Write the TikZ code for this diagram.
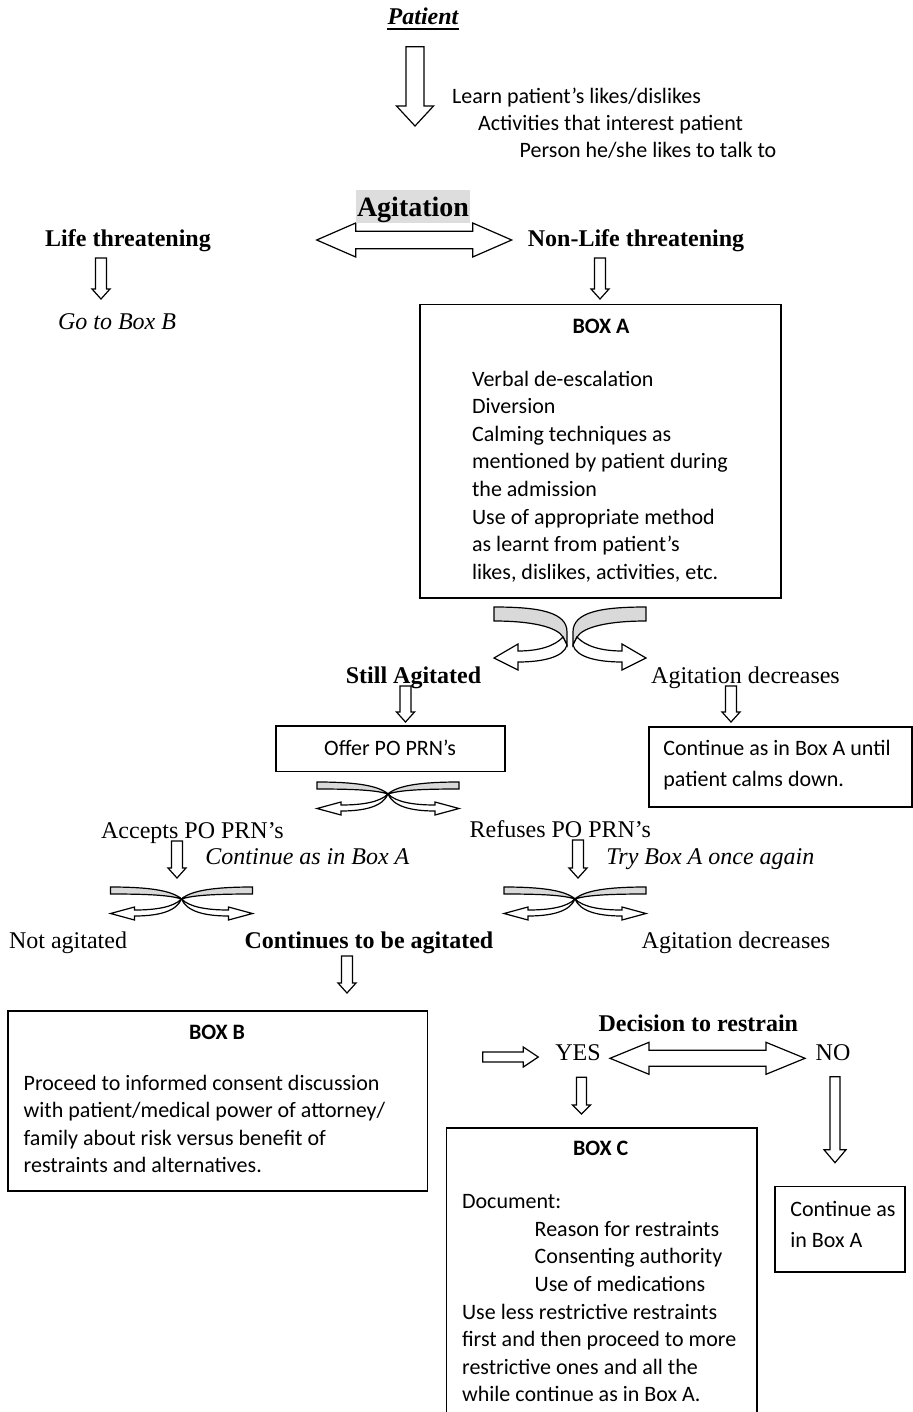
\documentclass[tikz,border=0pt]{standalone}
\usepackage{fontspec}
\setmainfont{Liberation Serif}
\newfontfamily\calib{Carlito}
\definecolor{ribbon}{HTML}{D9D9D9}
\definecolor{hilite}{HTML}{DDDDDD}
% block arrows
\newcommand\bdown[6]{% x ytop ytip shaftw headw headlen
  \draw[barrow] ({#1-#4/2},#2) -- ({#1+#4/2},#2) -- ({#1+#4/2},{#3-#6}) -- ({#1+#5/2},{#3-#6}) -- (#1,#3) -- ({#1-#5/2},{#3-#6}) -- ({#1-#4/2},{#3-#6}) -- cycle;}
\newcommand\bdouble[6]{% xl xr yc shaft-half head-half headlen
  \draw[barrow] (#1,#3) -- ({#1+#6},{#3-#5}) -- ({#1+#6},{#3-#4}) -- ({#2-#6},{#3-#4}) -- ({#2-#6},{#3-#5}) -- (#2,#3) -- ({#2-#6},{#3+#5}) -- ({#2-#6},{#3+#4}) -- ({#1+#6},{#3+#4}) -- ({#1+#6},{#3+#5}) -- cycle;}
\newcommand\bright[6]{% xl xtip yc shaft-half head-half headlen
  \draw[barrow] (#1,{#3-#4}) -- ({#2-#6},{#3-#4}) -- ({#2-#6},{#3-#5}) -- (#2,#3) -- ({#2-#6},{#3+#5}) -- ({#2-#6},{#3+#4}) -- (#1,{#3+#4}) -- cycle;}
\newcommand\bigribbon{%
  \draw[grib] (-73,-33) .. controls (-28,-33) and (0,-28) .. (0,-8) -- (0,5) -- (-4,-3) .. controls (-10,-13) and (-35,-19) .. (-73,-19) -- cycle;
  \draw[barrow] (-4,-3) .. controls (-12,6) and (-28,11) .. (-49,11) -- (-49,4) -- (-73,18) -- (-49,30) -- (-49,22) .. controls (-24,22) and (-3,17) .. (0,5) -- cycle;}
\newcommand\smallribbon{%
  \draw[grib] (-71,-12) .. controls (-35,-12) and (-10,-9) .. (0,0) .. controls (-12,-4) and (-35,-5) .. (-71,-5) -- cycle;
  \draw[barrow] (0,0) .. controls (-8,8) and (-25,11) .. (-47,11) -- (-47,8) -- (-71,14.5) -- (-47,21) -- (-47,17) .. controls (-22,17) and (-5,12) .. (0,0) -- cycle;}
\newcommand\splitsmall[2]{%
  \begin{scope}[shift={(#1,#2)}]\smallribbon\end{scope}
  \begin{scope}[shift={(#1,#2)},xscale=-1]\smallribbon\end{scope}}
\tikzset{
  barrow/.style={draw=black, fill=white, line width=0.6pt},
  grib/.style={draw=black, fill=ribbon, line width=0.6pt},
  boxline/.style={draw=black, line width=0.75pt, inner sep=0pt},
  tm/.style={font=\fontsize{12}{14}\selectfont, inner sep=0pt, anchor=base},
  tmb/.style={font=\fontsize{12}{14}\selectfont\bfseries, inner sep=0pt, anchor=base},
  tmi/.style={font=\fontsize{12}{14}\selectfont\itshape, inner sep=0pt, anchor=base west},
  cl/.style={font=\calib\fontsize{11}{13.8}\selectfont, inner sep=0pt, anchor=base west},
  clw/.style={font=\calib\fontsize{11}{15.5}\selectfont, inner sep=0pt, anchor=base west},
  ct/.style={font=\calib\bfseries\fontsize{11}{13.8}\selectfont, inner sep=0pt, anchor=base},
}
\begin{document}
\begin{tikzpicture}[x=0.5pt,y=-0.5pt]
\useasboundingbox[fill=white] (0,0) rectangle (912,1412);

% Patient
\node[tm, font=\fontsize{12}{14}\selectfont\bfseries\itshape] (patient) at (423,25) {Patient};
\draw[line width=0.9pt] ([yshift=-2.2pt]patient.base west) -- ([yshift=-2.2pt]patient.base east);
\bdown{415}{46.7}{126}{18}{37}{20}
\node[cl] (learn1) at (451.7,103.7) {Learn patient’s likes/dislikes};
\node[cl] (learn2) at (477.7,130.3) {Activities that interest patient};
\node[cl] (learn3) at (519.3,157.7) {Person he/she likes to talk to};

% Agitation
\bdouble{316.7}{511.7}{240}{8.7}{17}{39}
\node[fill=hilite, inner sep=0pt, text height=13.35pt, text depth=3pt, minimum width=57pt,
      font=\fontsize{14}{16}\selectfont\bfseries, anchor=base] (agit) at (413,216.7) {Agitation};
\node[tmb] (life) at (128,247) {Life threatening};
\node[tmb] (nonlife) at (636,247) {Non-Life threatening};
\bdown{101}{258}{299}{11}{18}{10}
\bdown{600}{258}{299}{11}{18}{10}
\node[tmi, anchor=base] (gotob) at (117,329) {Go to Box B};

% Box A
\node[boxline, anchor=north west, minimum width=180.35pt, minimum height=146.65pt] (boxA) at (419.3,303.7) {};
\node[ct] (boxAt) at (601,333.5) {BOX A};
\node[cl] (boxAbody) at (471.7,386) {\begin{tabular}[t]{@{}l@{}}Verbal de-escalation\\ Diversion\\ Calming techniques as\\ mentioned by patient during\\ the admission\\ Use of appropriate method\\ as learnt from patient’s\\ likes, dislikes, activities, etc.\end{tabular}};

% big split
\begin{scope}[shift={(567,640)}]\bigribbon\end{scope}
\begin{scope}[shift={(573,640)},xscale=-1]\bigribbon\end{scope}

\node[tmb] (still) at (413.5,683) {Still Agitated};
\node[tm] (dec1) at (745.5,683) {Agitation decreases};
\bdown{405.5}{686}{722}{11}{18}{10}
\bdown{731}{686}{722}{11}{18}{10}

% Offer PO PRN's
\node[boxline, anchor=north west, minimum width=114.65pt, minimum height=22.85pt] (offer) at (275,725) {};
\node[cl, anchor=base] (offert) at (390,755) {Offer PO PRN’s};
\node[boxline, anchor=north west, minimum width=131.5pt, minimum height=40pt] (cont1) at (648,726) {};
\node[clw] (cont1t) at (663,755) {\begin{tabular}[t]{@{}l@{}}Continue as in Box A until\\ patient calms down.\end{tabular}};

\splitsmall{388}{794}

\node[tm] (accepts) at (192.5,838) {Accepts PO PRN’s};
\node[tm] (refuses) at (560.3,837) {Refuses PO PRN’s};
\bdown{177}{841}{878}{11}{18}{10}
\bdown{578}{840}{878}{11}{18}{10}
\node[tmi] (contA) at (205,864) {Continue as in Box A};
\node[tmi] (tryA) at (606,864) {Try Box A once again};

\splitsmall{181.5}{899}
\splitsmall{575}{899}

\node[tm] (notag) at (68,948) {Not agitated};
\node[tmb] (contag) at (369,948) {Continues to be agitated};
\node[tm] (dec2) at (736,948) {Agitation decreases};
\bdown{347}{956}{993}{11}{18}{10}

% Box B
\node[boxline, anchor=north west, minimum width=209.7pt, minimum height=90pt] (boxB) at (7.3,1010) {};
\node[ct] (boxBt) at (217,1039) {BOX B};
\node[cl] (boxBbody) at (23.3,1090) {\begin{tabular}[t]{@{}l@{}}Proceed to informed consent discussion\\ with patient/medical power of attorney/\\ family about risk versus benefit of\\ restraints and alternatives.\end{tabular}};

% Decision
\node[tmb] (decision) at (698.3,1031) {Decision to restrain};
\node[tm] (yes) at (578,1060) {YES};
\node[tm] (no) at (833,1060) {NO};
\bright{482.7}{538.3}{1057}{5}{10}{15}
\bdouble{610}{805}{1058.3}{8}{16}{39}
\bdown{581.5}{1077.3}{1114}{10}{18}{9}
\bdown{835}{1076.7}{1162.7}{10}{22}{13}

% Box C
\node[boxline, anchor=north west, minimum width=155.15pt, minimum height=150pt] (boxC) at (445.7,1127.3) {};
\node[ct] (boxCt) at (600.7,1155) {BOX C};
\node[cl] (boxCbody) at (461.7,1208.7) {\begin{tabular}[t]{@{}l@{}}Document:\\ \hspace*{36.3pt}Reason for restraints\\ \hspace*{36.3pt}Consenting authority\\ \hspace*{36.3pt}Use of medications\\ Use less restrictive restraints\\ first and then proceed to more\\ restrictive ones and all the\\ while continue as in Box A.\end{tabular}};

\node[boxline, anchor=north west, minimum width=65pt, minimum height=42.65pt] (cont2) at (774.3,1185.7) {};
\node[clw] (cont2t) at (790,1216) {\begin{tabular}[t]{@{}l@{}}Continue as\\ in Box A\end{tabular}};
\end{tikzpicture}
\end{document}
